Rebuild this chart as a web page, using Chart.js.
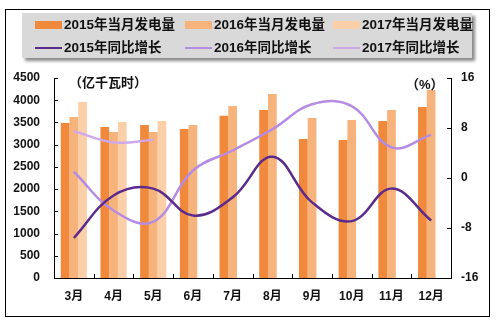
<!DOCTYPE html>
<html><head><meta charset="utf-8">
<script src="https://cdn.jsdelivr.net/npm/chart.js@4"></script>
<style>
html,body{margin:0;padding:0;background:#fff;}
#wrap{position:relative;width:499px;height:323px;overflow:hidden;font-family:"Liberation Sans",Arial,"Noto Sans CJK SC",sans-serif;font-weight:bold;}
#frame{position:absolute;left:5px;top:9px;width:485px;height:308px;border:1px solid #000;box-sizing:border-box;}
#legend{position:absolute;left:22px;top:13px;width:450px;height:45px;background:#d9d9d9;box-shadow:3px 3px 3px #8a8a8a;}
.li{position:absolute;font-size:13.5px;line-height:16px;color:#111;white-space:nowrap;}
.sw{position:absolute;}
.ann{position:absolute;font-size:13px;color:#111;white-space:nowrap;}
canvas{position:absolute;left:0;top:0;}
</style></head>
<body><div id="wrap">
<div id="frame"></div>
<canvas id="c" width="499" height="323"></canvas>
<div id="legend"></div>
<div class="ann" style="left:69px;top:72px;">（亿千瓦时）</div>
<div class="ann" style="left:406px;top:74px;">（%）</div>
</div>
<script>
const categories = ["3月","4月","5月","6月","7月","8月","9月","10月","11月","12月"];
const gen2015 = [3490,3400,3440,3350,3650,3780,3130,3105,3530,3850];
const gen2016 = [3620,3285,3285,3440,3870,4140,3600,3555,3780,4230];
const gen2017 = [3960,3510,3530,null,null,null,null,null,null,null];
const yoy2015 = [-9.6,-2.8,-1.7,-6.0,-3.1,3.4,-3.9,-6.9,-1.7,-6.8];
const yoy2016 = [1.0,-5.2,-7.0,1.2,4.4,7.8,11.8,11.5,4.9,6.9];
const yoy2017 = [7.5,5.7,6.1,null,null,null,null,null,null,null];
const leftTicks = [0,500,1000,1500,2000,2500,3000,3500,4000,4500];
const rightTicks = [-16,-8,0,8,16];
const seriesNames = ["2015年当月发电量","2016年当月发电量","2017年当月发电量","2015年同比增长","2016年同比增长","2017年同比增长"];

const barColors = ["#f0893b","#f7b37c","#fbd0a9"];
const lineColors = ["#5a2a8c","#b58ce4","#cda9ec"];

// HTML legend
const lg = document.getElementById('legend');
const colX = [13,163,311];
const rowY = [4,27];
for (let i=0;i<6;i++){
  const col=i%3,row=Math.floor(i/3);
  const sw=document.createElement('div');sw.className='sw';
  if(row===0){sw.style.cssText=`left:${colX[col]}px;top:${rowY[row]+4}px;width:27px;height:8px;background:${barColors[col]}`;}
  else{sw.style.cssText=`left:${colX[col]}px;top:${rowY[row]+7}px;width:27px;height:2px;background:${lineColors[col]}`;}
  lg.appendChild(sw);
  const t=document.createElement('div');t.className='li';t.textContent=seriesNames[i];
  t.style.left=(colX[col]+29)+'px';t.style.top=rowY[row]+'px';
  lg.appendChild(t);
}

const innerTicks = {
  id:'innerTicks',
  afterDraw(chart){
    const ctx=chart.ctx, a=chart.chartArea;
    ctx.save();ctx.strokeStyle='#000';ctx.lineWidth=1;
    const y=chart.scales.y, y1=chart.scales.y1, x=chart.scales.x;
    ctx.beginPath();
    leftTicks.forEach(v=>{const p=Math.round(y.getPixelForValue(v))+0.5;ctx.moveTo(a.left,p);ctx.lineTo(a.left+4,p);});
    rightTicks.forEach(v=>{const p=Math.round(y1.getPixelForValue(v))+0.5;ctx.moveTo(a.right-4,p);ctx.lineTo(a.right,p);});
    for(let i=1;i<categories.length;i++){
      const p=Math.round((x.getPixelForValue(i-1)+x.getPixelForValue(i))/2)+0.5;
      ctx.moveTo(p,a.bottom);ctx.lineTo(p,a.bottom-4);
    }
    ctx.stroke();ctx.restore();
  }
};

const font={family:'"Liberation Sans", Arial, "Noto Sans CJK SC", sans-serif',weight:'bold',size:12};

new Chart(document.getElementById('c'),{
  data:{
    labels:categories,
    datasets:[
      {type:'line',label:seriesNames[3],data:yoy2015,yAxisID:'y1',borderColor:lineColors[0],borderWidth:2.5,pointRadius:0,tension:0.4,order:1},
      {type:'line',label:seriesNames[4],data:yoy2016,yAxisID:'y1',borderColor:lineColors[1],borderWidth:2.5,pointRadius:0,tension:0.4,order:1},
      {type:'line',label:seriesNames[5],data:yoy2017,yAxisID:'y1',borderColor:lineColors[2],borderWidth:2.5,pointRadius:0,tension:0.4,order:1,spanGaps:false},
      {type:'bar',label:seriesNames[0],data:gen2015,yAxisID:'y',backgroundColor:barColors[0],categoryPercentage:0.66,barPercentage:1.0,order:2},
      {type:'bar',label:seriesNames[1],data:gen2016,yAxisID:'y',backgroundColor:barColors[1],categoryPercentage:0.66,barPercentage:1.0,order:2},
      {type:'bar',label:seriesNames[2],data:gen2017,yAxisID:'y',backgroundColor:barColors[2],categoryPercentage:0.66,barPercentage:1.0,order:2}
    ]
  },
  options:{
    responsive:false,animation:false,
    layout:{padding:{top:78,left:0,right:0,bottom:0}},
    plugins:{legend:{display:false},tooltip:{enabled:false}},
    scales:{
      x:{
        grid:{display:false,drawTicks:false},
        border:{display:true,color:'#000',width:1},
        ticks:{font:font,color:'#111',padding:11,maxRotation:0},
        afterFit(s){s.height=45;}
      },
      y:{
        position:'left',min:0,max:4500,
        afterBuildTicks(s){s.ticks=leftTicks.map(v=>({value:v}));},
        grid:{display:false,drawTicks:false},
        border:{display:true,color:'#000',width:1},
        ticks:{font:font,color:'#111',padding:14,callback:(v)=>String(v)},
        afterFit(s){s.width=54;}
      },
      y1:{
        position:'right',min:-16,max:16,
        afterBuildTicks(s){s.ticks=rightTicks.map(v=>({value:v}));},
        grid:{display:false,drawTicks:false},
        border:{display:true,color:'#000',width:1},
        ticks:{font:font,color:'#111',padding:10,callback:(v)=>String(v)},
        afterFit(s){s.width=48;}
      }
    }
  },
  plugins:[innerTicks]
});
</script>
</body></html>
